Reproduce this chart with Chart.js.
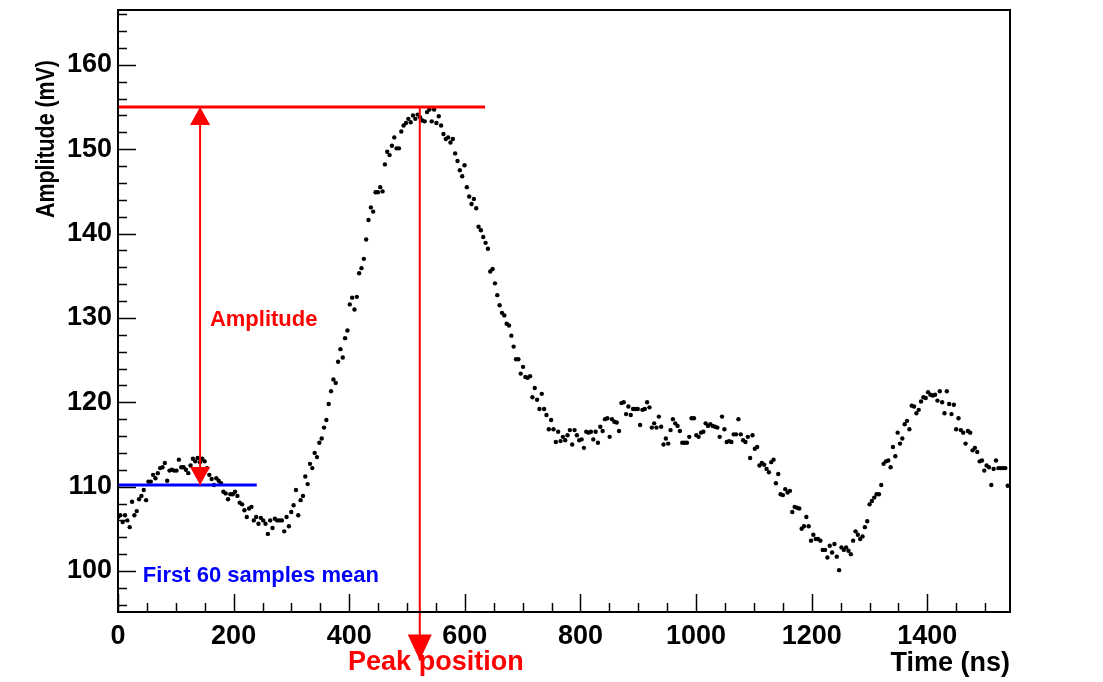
<!DOCTYPE html>
<html>
<head>
<meta charset="utf-8">
<script src="https://cdn.jsdelivr.net/npm/chart.js@4.4.1/dist/chart.umd.min.js"></script>
<style>
  html, body { margin: 0; padding: 0; background: #fff; }
  #wrap { position: relative; width: 1103px; height: 682px; }
</style>
</head>
<body>
<div id="wrap"><canvas id="c" width="1103" height="682"></canvas></div>
<script>
// digitizer samples, one every SAMPLE_NS nanoseconds (mV)
const SAMPLE_NS = 4.05;
const amplitude = [
  106.4, 106.6, 105.8, 106.6, 106.0, 105.2, 108.2, 106.6, 107.1, 108.5,
  108.9, 109.6, 108.4, 110.6, 110.6, 111.4, 111.0, 111.6, 112.2, 112.3,
  112.8, 110.7, 111.9, 112.0, 111.9, 111.9, 113.2, 112.3, 112.3, 112.0,
  111.6, 112.5, 113.3, 113.0, 113.4, 112.9, 113.3, 113.0, 112.2, 111.4,
  110.9, 110.2, 111.0, 110.7, 110.4, 109.4, 109.2, 108.5, 109.1, 109.1,
  109.4, 108.9, 108.1, 107.9, 107.2, 106.4, 107.4, 107.6, 106.0, 106.4,
  105.6, 106.3, 106.0, 105.6, 104.4, 106.0, 105.1, 106.2, 106.0, 106.0,
  106.0, 104.7, 106.4, 105.3, 107.0, 107.8, 109.6, 106.6, 108.4, 108.9,
  111.2, 110.3, 112.7, 112.2, 114.0, 113.5, 115.2, 115.7, 117.0, 117.9,
  119.8, 121.3, 122.7, 122.3, 124.8, 126.3, 125.3, 127.6, 128.5, 131.6,
  132.4, 131.0, 132.5, 135.3, 135.9, 137.0, 139.3, 141.6, 143.1, 142.6,
  144.9, 144.9, 145.5, 145.0, 148.2, 149.7, 149.3, 150.4, 151.4, 150.1,
  150.1, 152.1, 152.8, 153.1, 153.6, 153.2, 154.0, 153.6, 154.1, 153.8,
  153.4, 153.3, 154.4, 154.7, 153.3, 154.7, 153.1, 153.9, 152.8, 151.8,
  151.2, 151.4, 150.8, 151.2, 149.5, 148.6, 147.5, 146.8, 148.1, 145.5,
  144.4, 143.5, 144.1, 143.0, 140.8, 140.4, 139.6, 138.9, 138.2, 135.5,
  135.8, 134.1, 132.7, 131.5, 130.6, 130.3, 129.3, 129.1, 127.9, 126.6,
  125.1, 125.1, 123.4, 124.2, 123.0, 122.9, 123.1, 120.6, 121.7, 120.3,
  119.2, 121.0, 119.2, 118.5, 116.8, 117.9, 116.8, 115.3, 116.5, 115.4,
  115.9, 115.5, 116.1, 116.7, 115.0, 116.7, 116.1, 115.5, 115.6, 114.6,
  116.5, 116.4, 116.5, 115.6, 116.5, 115.2, 117.1, 116.6, 118.0, 118.1,
  115.9, 118.0, 117.7, 117.6, 116.6, 119.9, 120.0, 118.6, 119.5, 118.5,
  119.2, 119.2, 119.2, 117.3, 119.1, 119.2, 120.0, 119.4, 117.0, 117.5,
  117.0, 118.3, 117.1, 115.0, 115.7, 115.1, 116.7, 118.0, 117.5, 117.2,
  116.6, 115.2, 115.2, 115.2, 115.9, 118.1, 118.1, 116.1, 115.9, 116.4,
  116.5, 117.5, 117.2, 117.4, 117.2, 117.1, 117.0, 115.9, 118.3, 116.8,
  115.3, 115.4, 115.3, 116.2, 116.2, 118.0, 116.2, 115.5, 115.3, 115.9,
  113.4, 116.1, 114.5, 114.7, 112.5, 112.8, 112.6, 112.1, 111.7, 112.9,
  113.2, 110.4, 111.5, 109.1, 109.0, 109.7, 109.3, 109.5, 107.0, 107.6,
  107.5, 107.4, 105.0, 105.3, 106.4, 105.3, 103.6, 104.3, 103.8, 103.8,
  103.6, 102.5, 102.5, 101.6, 103.0, 102.2, 103.2, 101.7, 100.1, 102.8,
  102.5, 102.8, 102.4, 102.0, 103.6, 104.7, 104.3, 103.8, 104.1, 105.2,
  105.9, 107.9, 108.3, 108.7, 109.1, 109.1, 110.2, 112.7, 113.0, 113.1,
  112.3, 114.7, 113.6, 116.4, 115.1, 115.7, 117.4, 117.8, 116.8, 119.6,
  119.5, 118.7, 119.1, 120.1, 120.6, 120.5, 121.2, 120.9, 120.8, 120.9,
  120.2, 121.3, 120.0, 118.7, 121.3, 119.8, 118.6, 119.7, 116.8, 118.1,
  116.7, 116.4, 115.1, 116.6, 116.4, 114.3, 114.6, 114.1, 113.0, 113.1,
  111.9, 112.5, 112.3, 110.2, 112.1, 113.1, 112.2, 112.2, 112.2, 112.2,
  110.1
];

const xTicks = [0, 200, 400, 600, 800, 1000, 1200, 1400];
const yTicks = [100, 110, 120, 130, 140, 150, 160];

const X_MIN = 0, X_MAX = 1543;
const Y_MIN = 95.14, Y_MAX = 166.5;

// annotation values (ns / mV)
const baselineMean = 110.2;   // mean of first 60 samples
const baselineEnd = 240;
const peakValue = 155;
const peakLineEnd = 635;
const peakTime = 522;
const ampArrowX = 142;
const peakArrowTip = 89.4;    // below the axis, in mV units

const points = amplitude.map((v, i) => ({ x: i * SAMPLE_NS, y: v }));

const FONT = "'Liberation Sans', Arial, Helvetica, sans-serif";
Chart.defaults.font.family = FONT;
Chart.defaults.color = '#000';

function line(ctx, x1, y1, x2, y2) {
  ctx.beginPath();
  ctx.moveTo(x1, y1);
  ctx.lineTo(x2, y2);
  ctx.stroke();
}
function head(ctx, x, tipY, dir, w, h) {
  ctx.beginPath();
  ctx.moveTo(x, tipY);
  ctx.lineTo(x - w / 2, tipY - dir * h);
  ctx.lineTo(x + w / 2, tipY - dir * h);
  ctx.closePath();
  ctx.fill();
}

const rootLook = {
  id: 'rootLook',
  afterDatasetsDraw(chart) {
    const ctx = chart.ctx;
    const xs = chart.scales.x, ys = chart.scales.y;
    const px = v => xs.getPixelForValue(v);
    const py = v => ys.getPixelForValue(v);
    ctx.save();
    ctx.lineCap = 'butt';

    // peak level
    ctx.strokeStyle = '#ff0000';
    ctx.lineWidth = 3;
    line(ctx, px(0), py(peakValue), px(peakLineEnd), py(peakValue));

    // baseline mean
    ctx.strokeStyle = '#0000ff';
    line(ctx, px(0), py(baselineMean), px(baselineEnd), py(baselineMean));

    // amplitude arrow
    ctx.strokeStyle = '#ff0000';
    ctx.fillStyle = '#ff0000';
    ctx.lineWidth = 2;
    line(ctx, px(ampArrowX), py(peakValue), px(ampArrowX), py(baselineMean));
    head(ctx, px(ampArrowX), py(peakValue), -1, 20, 18);
    head(ctx, px(ampArrowX), py(baselineMean), 1, 20, 18);

    // peak position arrow
    line(ctx, px(peakTime), py(peakValue), px(peakTime), py(peakArrowTip));
    head(ctx, px(peakTime), py(peakArrowTip), 1, 24, 26);

    // labels
    ctx.font = 'bold 22px ' + FONT;
    ctx.textAlign = 'left';
    ctx.textBaseline = 'alphabetic';
    ctx.fillText('Amplitude', px(159), py(129.1));
    ctx.font = 'bold 27px ' + FONT;
    ctx.fillText('Peak position', px(398), py(88.3));
    ctx.fillStyle = '#0000ff';
    ctx.font = 'bold 22px ' + FONT;
    ctx.fillText('First 60 samples mean', px(43), py(98.7));
    ctx.restore();
  },
  afterDraw(chart) {
    const ctx = chart.ctx;
    const a = chart.chartArea;
    const xs = chart.scales.x, ys = chart.scales.y;
    ctx.save();
    ctx.strokeStyle = '#000';
    ctx.lineWidth = 1.5;
    // ticks on left axis
    for (let v = 96; v <= Y_MAX; v += 2) {
      const y = Math.round(ys.getPixelForValue(v)) + 0.5;
      const len = v % 10 === 0 ? 18 : 9;
      line(ctx, a.left, y, a.left + len, y);
    }
    // ticks on bottom axis
    for (let v = 0; v <= X_MAX; v += 50) {
      const x = Math.round(xs.getPixelForValue(v)) + 0.5;
      const len = v % 200 === 0 ? 18 : 9;
      line(ctx, x, a.bottom, x, a.bottom - len);
    }
    // frame
    ctx.lineWidth = 2;
    ctx.strokeRect(a.left, a.top, a.right - a.left, a.bottom - a.top);

    // y title (narrow, as in the original)
    ctx.fillStyle = '#000';
    ctx.font = 'bold 25px ' + FONT;
    ctx.translate(47, 139);
    ctx.rotate(-Math.PI / 2);
    ctx.scale(0.855, 1);
    ctx.textAlign = 'center';
    ctx.textBaseline = 'middle';
    ctx.fillText('Amplitude (mV)', 0, 0);
    ctx.restore();
  }
};

new Chart(document.getElementById('c'), {
  type: 'scatter',
  data: {
    datasets: [{
      data: points,
      pointRadius: 2.2,
      pointBorderWidth: 0,
      backgroundColor: '#000',
      borderColor: '#000',
      showLine: false
    }]
  },
  options: {
    responsive: false,
    animation: false,
    devicePixelRatio: 1,
    layout: { padding: { left: 0, top: 10, right: 93, bottom: 0 } },
    plugins: { legend: { display: false }, tooltip: { enabled: false } },
    scales: {
      x: {
        type: 'linear',
        min: X_MIN,
        max: X_MAX,
        grid: { display: false, drawTicks: false },
        border: { display: false },
        afterFit: s => { s.height = 70; s.paddingLeft = 0; s.paddingRight = 0; },
        afterBuildTicks: s => { s.ticks = xTicks.map(v => ({ value: v })); },
        ticks: {
          autoSkip: false,
          maxRotation: 0,
          padding: 8,
          callback: v => String(v),
          font: { size: 27, weight: 'bold' },
          color: '#000'
        },
        title: {
          display: true,
          text: 'Time (ns)',
          align: 'end',
          color: '#000',
          font: { size: 27, weight: 'bold' },
          padding: { top: 0, bottom: 2 }
        }
      },
      y: {
        type: 'linear',
        min: Y_MIN,
        max: Y_MAX,
        grid: { display: false, drawTicks: false },
        border: { display: false },
        afterFit: s => { s.width = 118; s.paddingTop = 0; s.paddingBottom = 0; },
        afterBuildTicks: s => { s.ticks = yTicks.map(v => ({ value: v })); },
        ticks: {
          padding: 6,
          callback: v => String(v),
          font: { size: 27, weight: 'bold' },
          color: '#000'
        }
      }
    }
  },
  plugins: [rootLook]
});
</script>
</body>
</html>
